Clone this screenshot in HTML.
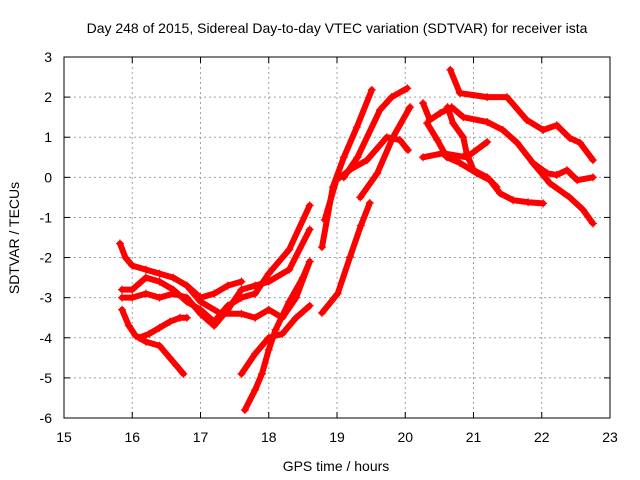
<!DOCTYPE html>
<html><head><meta charset="utf-8"><style>
body{margin:0;background:#fff}
svg{display:block;font-family:"Liberation Sans",sans-serif}
</style></head><body>
<svg id="chart" width="640" height="480">
<text x="337" y="33" font-size="14" text-anchor="middle">Day 248 of 2015, Sidereal Day-to-day VTEC variation (SDTVAR) for receiver ista</text>
<text x="336" y="471" font-size="14" text-anchor="middle">GPS time / hours</text>
<text x="19" y="238" font-size="14" text-anchor="middle" transform="rotate(-90 19 238)">SDTVAR / TECUs</text>
<g id="grid"></g><g id="ticks"></g><g id="marks"></g>
<rect x="64" y="57" width="546" height="361" fill="none" stroke="#000" stroke-width="1"/>
</svg>
<script>
const xTicks=[15,16,17,18,19,20,21,22,23];
const yTicks=[3,2,1,0,-1,-2,-3,-4,-5,-6];
const sA=[[15.85,-3.3],[15.95,-3.7],[16.05,-3.95],[16.2,-4.1],[16.4,-4.2],[16.55,-4.5],[16.65,-4.7],[16.75,-4.9]];
const sB=[[16.1,-4.0],[16.25,-3.9],[16.4,-3.75],[16.55,-3.6],[16.7,-3.5],[16.8,-3.5]];
const sC=[[15.82,-1.65],[15.9,-2.0],[16.0,-2.2],[16.2,-2.3],[16.4,-2.4],[16.6,-2.5],[16.8,-2.7],[17.0,-3.0],[17.2,-2.9],[17.4,-2.7],[17.6,-2.6]];
const sD=[[15.85,-2.8],[16.0,-2.8],[16.2,-2.5],[16.4,-2.6],[16.6,-2.8],[16.8,-3.1],[17.0,-3.3],[17.2,-3.6],[17.4,-3.2],[17.6,-3.0],[17.8,-2.9],[18.0,-2.4],[18.3,-1.8],[18.6,-0.7]];
const sE=[[15.85,-3.0],[16.0,-3.0],[16.2,-2.9],[16.4,-3.0],[16.6,-2.9],[16.8,-3.0],[17.0,-3.4],[17.2,-3.7],[17.4,-3.3],[17.6,-2.8],[17.8,-2.7],[18.0,-2.6],[18.3,-2.3],[18.6,-1.3]];
const sF=[[16.8,-2.7],[17.0,-3.1],[17.3,-3.4],[17.6,-3.4],[17.8,-3.5],[18.0,-3.3],[18.2,-3.5],[18.4,-3.0],[18.6,-2.1]];
const sG=[[17.6,-4.9],[17.8,-4.4],[18.0,-4.0],[18.2,-3.9],[18.4,-3.5],[18.6,-3.2]];
const sH=[[17.65,-5.8],[17.8,-5.3],[17.9,-4.9],[18.0,-4.3],[18.1,-3.8],[18.3,-3.1],[18.5,-2.5],[18.6,-2.1]];
const sI=[[18.78,-3.38],[19.01,-2.9],[19.19,-1.99],[19.35,-1.2],[19.48,-0.64]];
const sJ=[[18.78,-1.74],[18.94,-0.24],[19.1,0.5],[19.29,1.25],[19.51,2.18]];
const sK=[[18.82,-1.06],[18.99,-0.07],[19.2,0.2],[19.44,0.43],[19.73,1.0],[19.92,0.93],[20.04,0.68]];
const sL=[[19.34,-0.5],[19.59,0.1],[19.82,1.0],[20.07,1.75]];
const sM=[[19.1,0.0],[19.3,0.5],[19.63,1.68],[19.8,2.0],[20.03,2.22]];
const sN=[[20.66,2.68],[20.8,2.1],[21.2,2.0],[21.49,2.0],[21.78,1.43],[22.02,1.18],[22.22,1.3],[22.41,0.98],[22.56,0.86],[22.75,0.43]];
const sO=[[20.26,1.85],[20.36,1.43],[20.51,1.6],[20.68,1.75],[20.85,1.5],[21.2,1.38],[21.43,1.18],[21.64,0.86],[21.87,0.36],[22.08,0.1],[22.22,0.06],[22.37,0.18],[22.52,-0.07],[22.75,0.0]];
const sP=[[20.32,1.35],[20.47,0.93],[20.61,0.5],[20.8,0.36],[21.05,0.1],[21.24,-0.07],[21.39,-0.4],[21.58,-0.57],[21.8,-0.62],[22.02,-0.65]];
const sQ=[[21.87,0.36],[22.12,-0.15],[22.41,-0.5],[22.6,-0.8],[22.75,-1.15]];
const sR=[[20.26,0.5],[20.55,0.6],[20.9,0.5],[21.2,0.88]];
const sT=[[20.62,1.75],[20.7,1.35],[20.85,1.0],[20.9,0.6],[21.0,0.18],[21.2,0.0],[21.34,-0.24]];
const series=[sA,sB,sC,sD,sE,sF,sG,sH,sI,sJ,sK,sL,sM,sN,sO,sP,sQ,sR,sT];
const X0=64,X1=610,Y0=418,Y1=57;
const xs=v=>X0+(v-15)/(23-15)*(X1-X0);
const ys=v=>Y0-(v+6)/(3+6)*(Y0-Y1);
const NS='http://www.w3.org/2000/svg';
const g=document.getElementById('grid'),t=document.getElementById('ticks'),m=document.getElementById('marks');
function mk(tag,at,p){const e=document.createElementNS(NS,tag);for(const k in at)e.setAttribute(k,at[k]);p.appendChild(e);return e;}
xTicks.forEach(v=>{const x=xs(v);
 if(v>15&&v<23){const l=mk('line',{x1:x,x2:x,y1:Y1,y2:Y0,stroke:'#a0a0a0','stroke-dasharray':'2,3'},g);
 
 }
 mk('line',{x1:x,x2:x,y1:Y0,y2:Y0-6,stroke:'#000'},t);mk('line',{x1:x,x2:x,y1:Y1,y2:Y1+6,stroke:'#000'},t);
 const tx=mk('text',{x:x,y:Y0+24,'font-size':14,'text-anchor':'middle'},t);tx.textContent=v;
 
 });
yTicks.forEach(v=>{const y=ys(v);
 if(v<3&&v>-6){const l=mk('line',{x1:X0,x2:X1,y1:y,y2:y,stroke:'#a0a0a0','stroke-dasharray':'2,3'},g);
 
 }
 mk('line',{x1:X0,x2:X0+6,y1:y,y2:y,stroke:'#000'},t);mk('line',{x1:X1,x2:X1-6,y1:y,y2:y,stroke:'#000'},t);
 const tx=mk('text',{x:X0-12,y:y+5,'font-size':14,'text-anchor':'end'},t);tx.textContent=v;
 
 });
series.forEach((s,i)=>{
 const grp=mk('g',{},m);
 
 
 mk('polyline',{points:s.map(p=>xs(p[0])+','+ys(p[1])).join(' '),fill:'none',stroke:'#f00','stroke-width':6,'stroke-linejoin':'round','stroke-linecap':'round'},grp);
 s.forEach(p=>{const x=xs(p[0]),y=ys(p[1]);
  mk('path',{d:`M${x-4},${y}H${x+4}M${x},${y-4}V${y+4}`,stroke:'#f00','stroke-width':1.2},grp);});
});
</script>
</body></html>
